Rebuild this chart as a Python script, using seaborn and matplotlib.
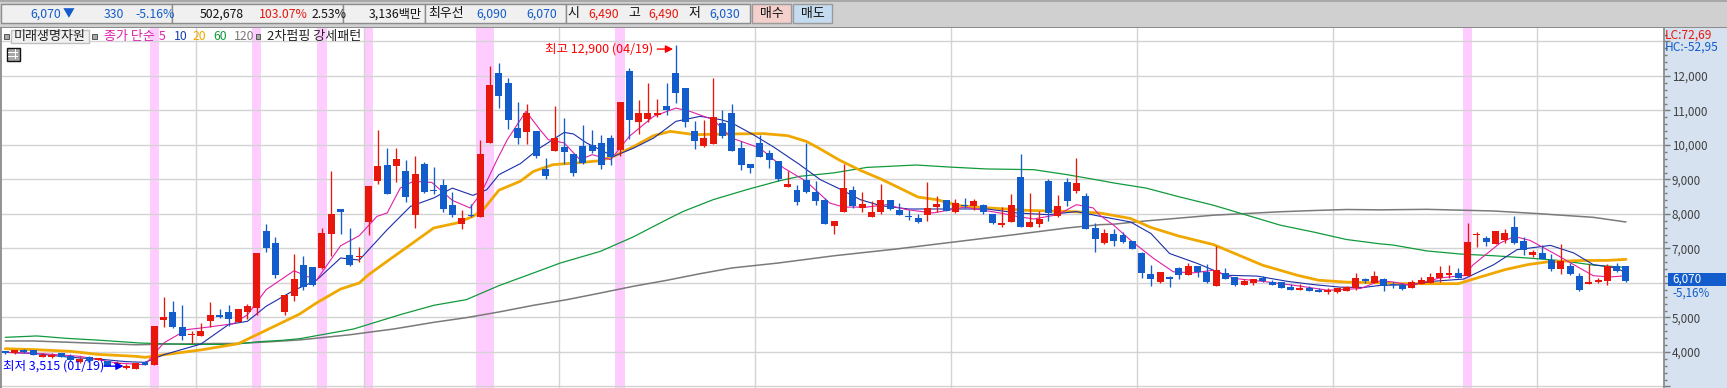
import numpy as np
import pandas as pd
import seaborn as sns
import matplotlib.pyplot as plt
from matplotlib.patches import Rectangle
from matplotlib.ticker import MultipleLocator, FuncFormatter

### DATA (won)
opens = [4020,3960,4070,4050,3855,3845,3970,3875,3700,3855,3780,3730,3650,3530,3515,3710,3615,4940,5170,4735,
         4490,4475,4910,5080,5170,4880,5170,5285,7515,7170,5170,5630,6510,6450,6430,7430,8155,6805,6760,7780,
         8965,9430,9400,9255,7980,9460,8690,8850,8270,7720,7970,7920,10070,12100,11805,10500,10385,10415,9315,9835,
         9950,9750,9980,10010,10070,10210,9865,12155,10675,10760,10880,11140,12100,11660,10415,9980,10040,10650,10935,9920,
         9460,10070,9780,9545,8790,8705,8995,8650,8415,7660,8070,8705,8185,7920,8070,8415,8125,7915,7895,7980,
         8210,8415,8070,8240,8240,8270,8010,7690,7780,9080,7630,7720,8965,7950,8940,8675,8530,7600,7155,7415,
         7385,7210,6865,6255,6025,6170,6430,6225,6490,6315,5910,6285,6170,5935,5995,6140,6025,6025,5880,5790,
         5850,5790,5735,5735,5765,5850,6110,5995,6125,5950,5950,5865,5980,6010,6155,6240,6300,6210,7390,7315,
         7140,7255,7630,7225,6820,6880,6675,6415,6500,6210,5980,6040,6070,6500,6490]
highs = [4040,4060,4090,4060,3970,3960,3980,3950,3855,3870,3820,3740,3730,3660,3690,3730,4745,5600,5490,5370,
         4600,4850,5460,5255,5370,5255,5400,6880,7720,7345,5660,6850,6780,6470,7590,9255,8155,7590,7040,8820,
         10445,9920,9920,9575,9690,9520,9370,9025,8650,8125,8300,10155,12300,12385,11950,11255,11200,10415,9630,11140,
         10790,9750,10590,10445,10300,10300,11255,12240,11315,11805,11345,11805,12900,11660,10700,10735,11950,11000,11200,10125,
         9460,10300,9865,9545,9255,8850,10070,8965,8470,7810,9460,8820,8650,8385,8880,8415,8330,8125,8010,8940,
         8530,8415,8445,8470,8445,8300,8010,8210,8590,9750,8620,8095,9015,8560,9050,9630,8620,7740,7560,7560,
         7475,7230,6895,6515,6315,6200,6460,6575,6490,6545,7070,6430,6170,6110,6130,6200,6080,6025,5965,5965,
         5910,5850,5850,5850,5910,6285,6140,6350,6155,6040,6010,6100,6185,6300,6500,6530,6445,7750,7480,7370,
         7515,7575,7950,7345,6965,7110,6850,7140,6590,6300,6560,6155,6560,6590,6490]
lows = [3950,3950,3980,3900,3850,3840,3860,3740,3690,3730,3770,3580,3530,3515,3510,3620,3610,4735,4695,4360,
        4260,4460,4735,4990,4765,4880,4960,5080,6890,6150,5080,5490,5800,5910,6400,6790,7430,6500,6620,7400,
        8880,8590,8940,8360,7600,8620,8590,8070,7920,7575,7900,7920,10050,11080,10475,10040,10040,9630,9025,9835,
        9460,9110,9440,9780,9315,9430,9690,10185,10330,10675,10820,10880,11225,10530,9890,9950,10040,10210,9835,9285,
        9200,9660,9345,8965,8790,8250,8600,8270,7720,7430,8070,8185,8070,7920,8010,8125,7980,7835,7750,7805,
        8070,8095,8040,8185,8125,8010,7720,7630,7780,7630,7630,7630,7805,7920,8240,8620,7560,6900,7125,7070,
        7155,6980,6140,5910,5995,5880,6110,6225,6170,5995,5910,6110,5910,5935,5935,6025,5935,5850,5790,5790,
        5765,5735,5675,5705,5765,5790,5995,5995,5780,5865,5805,5865,5980,6010,6040,6155,6155,6210,7050,7080,
        7140,7170,7140,6820,6760,6695,6360,6270,6240,5775,5980,6010,5950,6330,6030]
closes = [3960,4050,3990,3920,3910,3920,3865,3760,3805,3740,3790,3585,3660,3585,3680,3630,4745,5025,4725,4475,
          4500,4620,5080,5010,4965,5255,5325,6880,7020,6240,5660,6125,5870,5930,7450,8010,8070,6515,6770,8820,
          9400,8590,9600,8500,9170,8650,8660,8155,7980,7890,7950,9750,11750,11430,10735,10210,10935,9690,9110,10210,
          9805,9200,9490,9835,9430,9660,11255,10735,10935,10935,10935,11025,11515,10675,10125,10210,10810,10270,9835,9430,
          9340,9660,9575,9025,8880,8340,8630,8385,7720,7810,8760,8240,8300,8070,8415,8155,7980,7900,7780,8175,
          8300,8095,8330,8230,8385,8070,7750,7750,8270,7630,7780,7855,8040,8240,8385,8910,7570,7280,7445,7210,
          7185,6980,6285,6110,6315,6110,6225,6490,6315,6025,6370,6110,5935,6050,6130,6050,5935,5850,5790,5850,
          5765,5735,5810,5850,5870,6140,6060,6200,5925,5945,5835,6040,6100,6185,6300,6300,6155,7200,7400,7200,
          7515,7460,7170,6965,6890,6695,6415,6650,6270,5805,6040,6100,6500,6360,6070]

ma5_x = [0,4,8,12,15,17,19.5,21,24.5,26,28,31,33.4,36,38,39.9,41,42.4,43.8,45.8,48,49.9,51.1,52.8,53.9,55.9,57.4,58.3,60,61.7,
         63,65,67,69.6,72,73.5,76,78,81,83.6,86,88.5,90,92.5,94.6,96.8,99.6,103,106.8,108.6,110.4,113,115,116.8,117.5,119,120.8,123.3,125.4,127.6,
         129.7,132,135.4,139,142,145.5,147.6,149,151,154,156.6,157.6,160.5,162,163.7,166.2,168.4,170.5,172.3,174]
ma5 = [3990,3950,3875,3680,3630,4260,4650,4695,4820,5080,5805,6355,6077,7080,7370,7930,8030,8750,8950,8915,8395,8175,8610,9575,10155,10975,10445,10155,10060,9575,
       9720,9575,10250,10830,11070,10975,10735,10200,9915,9330,8945,8320,8200,8200,8270,8125,8030,8200,8030,7930,7855,7980,8270,8175,7965,7675,7240,6710,6325,6295,
       6370,6130,6035,5910,5790,5840,6065,6030,5930,6145,6220,6530,7160,7350,7235,6870,6530,6210,6175,6210]

ma10_x = [0,3,7,10,13,15,17,21,24,26,28,31,33.4,36,38,41,43.5,46,47,48,50.2,51.7,53,55.3,57.4,60,61,62.4,65.3,67.5,
          69.6,72,74.6,76.8,78,80.3,82.5,85.3,87.5,89.6,91.8,94,97,101.4,105.4,108.6,112,115,117.5,120.8,123,125,128,131,134.4,137.6,140.4,143.3,145.8,147.6,
          150.8,153.3,156.6,159.8,162.3,165.9,168.4,170.5,173,174]
ma10 = [3990,3960,3845,3795,3720,3700,3920,4230,4800,4890,5325,5790,6077,6725,6665,7545,8220,8465,8610,8750,8540,8705,9140,9460,9915,10365,10320,10060,9670,9915,
        10200,10685,10830,10735,10640,10300,9940,9430,8995,8725,8415,8240,8145,8145,8145,8030,7980,8070,7935,7770,7435,6855,6565,6225,6200,6050,5955,5880,5870,5930,
        5950,6050,6115,6530,6965,7090,6870,6530,6435,6290]

ma20_x = [0,3,7,10,14,15,17,21,25,27,29,31.6,33.4,36,38,39,41,43,46,48.5,50.2,51.3,53,55.3,56.7,58.8,61.3,63.9,65.3,67.5,
          69.6,71.4,74,78,81.4,84,86,87.5,89.6,91.8,94,96,98,100,102.5,105.7,109.7,114,117.5,120.8,123,126,129.7,132,135,138.7,141,144,147.6,149,
          152.6,156,158,161,163.4,165.5,168.7,172,174]
ma20 = [4095,4070,4020,3930,3875,3845,3920,4060,4240,4500,4760,5100,5420,5825,6000,6240,6630,7015,7595,7740,7930,8125,8690,8950,9235,9430,9480,9545,9670,9960,
        10270,10395,10300,10320,10330,10270,10105,9885,9555,9265,9015,8755,8490,8415,8240,8175,8105,8075,8030,7870,7610,7360,7115,6855,6515,6225,6080,6025,6005,5980,
        5980,5980,6145,6385,6530,6610,6650,6655,6685]

ma60_x = [0,3.4,6.6,10.2,14.5,19.5,24.5,27.3,29.8,31.6,37.4,42.4,46,49.5,53,56.7,59.6,63.9,67.4,71,72.8,76,79.6,83,85.3,88.9,92.5,97.8,101.4,105.4,
          110.4,114,117.5,119,122.5,126,129.7,133.3,136.9,140.4,144,147.6,149,152.6,156.2,159.8,163.4,167,170.5,173.7]
ma60 = [4425,4465,4395,4340,4260,4220,4220,4300,4340,4385,4667,5082,5353,5517,5923,6290,6580,6918,7333,7835,8077,8415,8705,8955,9092,9190,9350,9420,9360,9305,
        9285,9140,8975,8900,8750,8500,8255,7965,7675,7480,7260,7135,7100,6930,6840,6790,6725,6650,6520,6455]

ma120_x = [0,3,7,14,20,25,28,31.6,37,41.7,46,49.5,53,56.7,60.3,63.9,67.4,71,74.6,78,83,89,95.5,101.6,108.6,114,117.5,119,122.5,126,
           129.7,133.3,136.9,140.4,144,147.6,152.6,159.8,164.6,170.5,174]
ma120 = [4320,4320,4280,4210,4240,4250,4290,4350,4500,4667,4860,4995,5160,5353,5517,5710,5903,6077,6270,6435,6580,6790,6980,7180,7410,7595,7690,7705,7800,7880,
         7965,8015,8065,8100,8130,8120,8135,8087,8010,7903,7768]

signal_days = [16, 27, 34, 39, 51, 52, 66, 157]
month_breaks = [20.5, 38.5, 59.5, 80.5, 101.5, 121.5, 142.5, 164.5]

### STYLE
W, H = 1727, 388
c_up = '#E8170C'
c_down = '#125CCB'

sns.set_theme(style='white')
plt.rcParams['font.family'] = ['Noto Sans CJK KR', 'DejaVu Sans']

fig = plt.figure(figsize=(W / 100, H / 100), dpi=100, facecolor='#D0D0D0')
ax = fig.add_axes([1 / W, 0, 1662.5 / W, 360 / H], facecolor='white')


def box(x0, y0, x1, y1, fc, ec='none', lw=1, z=1):
    fig.add_artist(Rectangle((x0 / W, 1 - y1 / H), (x1 - x0) / W, (y1 - y0) / H, fc=fc, ec=ec, lw=lw,
                             transform=fig.transFigure, zorder=z))


def label(x, y, s, color='#222222', size=8.8, ha='left', z=5):
    fig.text(x / W, 1 - y / H, s, color=color, fontsize=size, ha=ha, va='center', zorder=z)


### FRAME
box(1663.5, 28, W, H, '#D6E2F0', z=0)
box(0, 26.5, W, 28, '#8C8C8C', z=3)
box(0, 0, W, 1.5, '#A8A8A8', z=3)

for x0, x1 in [(1, 172), (172, 343), (343, 425), (425, 566), (566, 750)]:
    box(x0, 4.5, x1, 23, '#F0F0F0', ec='#8C8C8C', z=2)
box(752, 4.5, 791, 23, '#F4D0CC', ec='#9A9A9A', z=2)
box(793, 4.5, 832, 23, '#C5DCF0', ec='#9A9A9A', z=2)

label(30, 14, '6,070', c_down)
label(63, 14, '▼', c_down, size=8.5)
label(104, 14, '330', c_down)
label(135, 14, '-5.16%', c_down)
label(200, 14, '502,678', '#111111')
label(259, 14, '103.07%', c_up)
label(312, 14, '2.53%', '#111111')
label(369, 14, '3,136백만', '#111111')
label(428, 14, '최우선', '#111111', size=9.3)
label(476, 14, '6,090', c_down)
label(526, 14, '6,070', c_down)
label(567, 14, '시', '#111111', size=9.3)
label(588, 14, '6,490', c_up)
label(628, 14, '고', '#111111', size=9.3)
label(648, 14, '6,490', c_up)
label(688, 14, '저', '#111111', size=9.3)
label(709, 14, '6,030', c_down)
label(772, 14, '매수', '#111111', size=9.3, ha='center')
label(813, 14, '매도', '#111111', size=9.3, ha='center')

### CHART
x = np.arange(len(opens))
candles = pd.DataFrame({'day': x, 'open': opens, 'high': highs, 'low': lows, 'close': closes})
candles['up'] = candles['close'] >= candles['open']
candles['color'] = np.where(candles['up'], c_up, c_down)
candles['body'] = np.maximum((candles['close'] - candles['open']).abs(), 35)
candles['bottom'] = candles[['open', 'close']].min(axis=1)

for day in signal_days:
    ax.axvspan(day - 0.5, day + 0.5, color='#FFCCFF', lw=0, zorder=0)

ax.set_axisbelow(True)
ax.set_yticks(np.arange(3000, 14000, 1000))
ax.set_xticks(month_breaks)
ax.grid(True, color='#D3D3D3', lw=1)

lines = [(ma120_x, ma120, '#7A7A7A', 1.1), (ma60_x, ma60, '#109A3C', 0.9), (ma20_x, ma20, '#F0A800', 2.0),
         (ma10_x, ma10, '#1A2FA8', 0.8), (ma5_x, ma5, '#E020A8', 0.8)]
for xs, ys, col, lw in lines:
    df = pd.DataFrame({'day': xs, 'price': ys})
    sns.lineplot(data=df, x='day', y='price', color=col, lw=lw, estimator=None, ax=ax, zorder=2)

ax.vlines(candles['day'], candles['low'], candles['high'], colors=candles['color'], lw=0.95, zorder=3)
ax.bar(candles['day'], candles['body'], bottom=candles['bottom'], width=0.75, color=candles['color'], lw=0, zorder=4)

ax.set_xlim(-0.46, 178.03)
ax.set_ylim(2956.5, 13391)
ax.set_xlabel('')
ax.set_ylabel('')
ax.tick_params(axis='x', length=0, labelbottom=False)
ax.yaxis.tick_right()
ax.yaxis.set_minor_locator(MultipleLocator(200))
# 6,000 sits under the last-price tag
ax.yaxis.set_major_formatter(FuncFormatter(lambda v, p: f'{v:,.0f}' if 4000 <= v <= 12000 and v != 6000 else ''))
ax.tick_params(axis='y', which='major', right=True, length=4.5, width=1, color='#7A7A7A', pad=1.5,
               labelsize=8.4, labelcolor='#404040')
ax.tick_params(axis='y', which='minor', right=True, length=2, width=1, color='#7A7A7A')
for side in ['top', 'bottom']:
    ax.spines[side].set_visible(False)
for side in ['left', 'right']:
    ax.spines[side].set_color('#8C8C8C')
    ax.spines[side].set_linewidth(1.3)

# high / low notes
ax.text(69.6, 12780, '최고 12,900 (04/19)', color='#FF0000', fontsize=9, ha='right', va='center', zorder=6)
ax.annotate('', xy=(71.7, 12780), xytext=(70.0, 12780), zorder=6,
            arrowprops=dict(arrowstyle='-|>', color='#FF0000', lw=1, shrinkA=0, shrinkB=0, mutation_scale=11))
ax.text(-0.25, 3590, '최저 3,515 (01/19)', color='#0000FF', fontsize=9, ha='left', va='center', zorder=6)
ax.annotate('', xy=(12.7, 3590), xytext=(10.6, 3590), zorder=6,
            arrowprops=dict(arrowstyle='-|>', color='#0000FF', lw=1, shrinkA=0, shrinkB=0, mutation_scale=11))

### LEGEND ROW
for xs in [4, 92, 256]:
    box(xs, 34, xs + 4.5, 38.5, '#A8A8A8', ec='#555555', lw=0.7, z=6)
box(11, 29.5, 89, 43, '#F0F0F0', ec='#C0C0C0', z=6)
label(50, 36.5, '미래생명자원', '#222222', size=9.4, ha='center', z=7)
label(104, 36.5, '종가 단순', '#E020A8', size=9.4)
label(159, 36.5, '5', '#E020A8')
label(174, 36.5, '10', '#1A3FB8')
label(193, 36.5, '20', '#F0A800')
label(213, 36.5, '60', '#109A3C')
label(234, 36.5, '120', '#7A7A7A')
label(267, 36.5, '2차펌핑 강세패턴', '#222222', size=9.4)

box(6.5, 47.5, 19.5, 60.5, '#A8A8A8', ec='#111111', lw=1, z=6)
for xs in [10.5, 15]:
    box(xs, 49, xs + 0.8, 59, 'white', z=7)
for ys in [52, 56]:
    box(8, ys, 18, ys + 0.8, 'white', z=7)

### RIGHT PANEL
label(1665, 35, 'LC:72,69', c_up, size=8.6)
label(1665, 47, 'HC:-52,95', c_down, size=8.6)
box(1668, 273, 1726, 286, c_down, z=6)
label(1672, 279.5, '6,070', 'white', size=8.4, z=7)
label(1672, 293, '-5,16%', c_down, size=8.4, z=7)

plt.savefig('out.png', dpi=100, facecolor=fig.get_facecolor())
plt.close()
